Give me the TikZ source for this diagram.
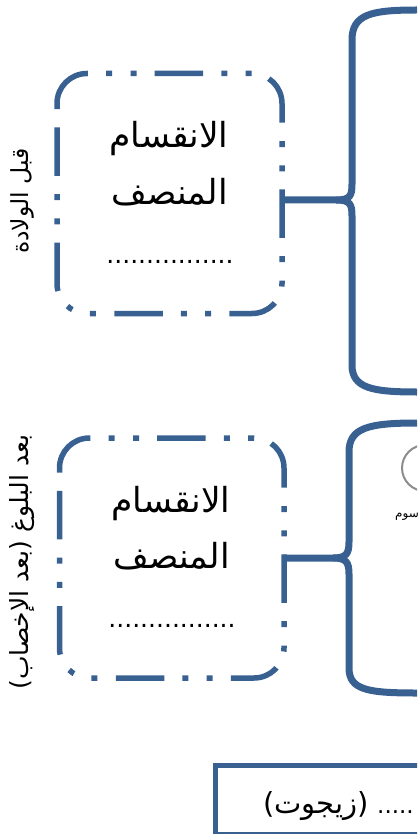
\documentclass[tikz,border=0pt]{standalone}
\usepackage{fontspec}
\setmainfont{DejaVu Sans}
\newfontfamily\ar[Script=Arabic]{DejaVu Sans}
\TeXXeTstate=1
\definecolor{bl}{RGB}{56,97,146}
\begin{document}
\begin{tikzpicture}[x=1pt,y=-1pt,
  boxnode/.style={minimum width=225pt, minimum height=240pt, inner sep=0pt},
  ddline/.style={draw=bl, line width=5.5pt, rounded corners=30pt,
    dash pattern=on 48.5pt off 18.3pt on 6pt off 18.3pt on 6pt off 18.1pt},
  bracestyle/.style={draw=bl, line width=7pt, line join=round},
  big/.style={font=\ar\fontsize{34.5}{40}\selectfont, anchor=base, inner sep=0pt},
  dots/.style={font=\fontsize{25}{30}\selectfont, anchor=base, inner sep=0pt},
  ]
\useasboundingbox (0,0) rectangle (417,834);
\clip (0,0) rectangle (417,834);

% top group
\node[boxnode] (box1) at (169.5,193.5) {};
\draw[ddline] (57,104) -- (57,73.5) -- (282,73.5) -- (282,313.5) -- (57,313.5) -- (57,104);
\node[big] (a1) at (169,148) {\beginR الانقسام\endR};
\node[big] (a2) at (170,205) {\beginR المنصف\endR};
\node[dots] (a3) at (170,263) {................};
\node[font=\ar\fontsize{23.5}{28}\selectfont, rotate=90, inner sep=0pt] (s1) at (22,201) {\beginR قبل الولادة\endR};
\coordinate (tip1) at (283,200);
\draw[bracestyle] (tip1) -- (336,200) .. controls (350,200) and (352,196) .. (352,184) -- (352,40) .. controls (352,14) and (372,10) .. (417,10);
\draw[bracestyle] (336,200) .. controls (350,200) and (352,204) .. (352,216) -- (352,365) .. controls (352,388) and (372,392) .. (417,392);

% bottom group
\node[boxnode] (box2) at (171.75,558) {};
\draw[ddline] (59.5,468.5) -- (59.5,438) -- (284,438) -- (284,678) -- (59.5,678) -- (59.5,468.5);
\node[big] (b1) at (171,512) {\beginR الانقسام\endR};
\node[big] (b2) at (172,568) {\beginR المنصف\endR};
\node[dots] (b3) at (172,627) {................};
\node[font=\fontsize{25}{30}\selectfont, rotate=90, inner sep=0pt] (s2) at (22,562) {({\ar\beginR بعد الإخصاب\endR}) {\ar\beginR بعد البلوغ\endR}};
\coordinate (tip2) at (283,558);
\draw[bracestyle] (tip2) -- (333,558) .. controls (346,558) and (349,554) .. (349,542) -- (349,452) .. controls (349,428) and (368,423) .. (417,423);
\draw[bracestyle] (333,558) .. controls (346,558) and (349,562) .. (349,574) -- (349,668) .. controls (349,690) and (368,693) .. (417,693);

% partial circle and label
\node[circle, draw=gray!90, line width=2pt, minimum size=46pt, inner sep=0pt] (c1) at (425,468) {};
\node[font=\ar\fontsize{12}{14}\selectfont, anchor=base west, inner sep=0pt] (lbl) at (395,517) {\beginR كروموسوم\endR};

% zygote box
\node[draw=bl, line width=5pt, anchor=north west, minimum width=400pt, minimum height=69.5pt, inner sep=0pt] (zbox) at (212.5,762.5) {};
\node[font=\fontsize{29}{34}\selectfont, anchor=base west, inner sep=0pt] (z) at (263,813) {({\ar\beginR زيجوت\endR})};
\node[font=\fontsize{23}{28}\selectfont, anchor=base west, inner sep=0pt] (zd) at (377,813) {.....};
\end{tikzpicture}
\end{document}
